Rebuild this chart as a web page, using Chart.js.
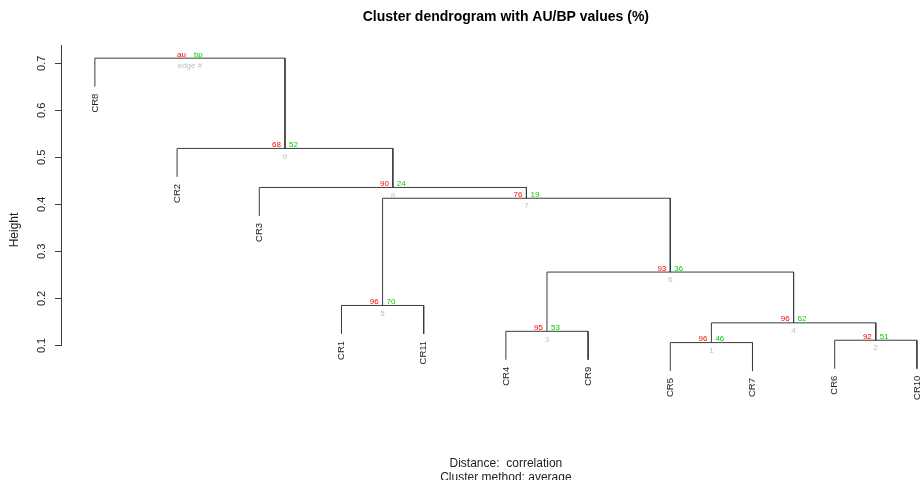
<!DOCTYPE html>
<html>
<head>
<meta charset="utf-8">
<title>Cluster dendrogram</title>
<script src="https://cdn.jsdelivr.net/npm/chart.js@4.4.1/dist/chart.umd.min.js"></script>
<style>
  body { margin: 0; background: #fff; }
  #wrap { width: 921px; height: 480px; }
</style>
</head>
<body>
<div id="wrap"><canvas id="dendro"></canvas></div>
<script>
/* ------------------------------------------- */
/* DATA -------------------------------------- */
/* ------------------------------------------- */
let leafLabels = ['CR8', 'CR2', 'CR3', 'CR1', 'CR11', 'CR4', 'CR9', 'CR5', 'CR7', 'CR6', 'CR10'];
// hclust style merges: negative = leaf (position in leafLabels), positive = earlier edge
let mergeLeft  = [-8, -10, -6, 1, -4, 3, 5, -3, -2, -1];
let mergeRight = [-9, -11, -7, 2, -5, 4, 6, 7, 8, 9];
let mergeHeights = [0.106, 0.111, 0.130, 0.148, 0.185, 0.256, 0.413, 0.436, 0.519, 0.711];
let auValues = [96, 92, 95, 96, 96, 93, 76, 90, 68];
let bpValues = [46, 51, 53, 62, 70, 36, 19, 24, 52];
let yTicks = [0.1, 0.2, 0.3, 0.4, 0.5, 0.6, 0.7];
let hang = 0.1;

let titleText = 'Cluster dendrogram with AU/BP values (%)';
let subText = ['Distance:  correlation', 'Cluster method: average'];

let lineCol = '#3c3c3c';
let auCol = '#ff0000';
let bpCol = '#00cd00';
let edgeCol = '#bebebe';
let fontFam = '"Liberation Sans", Arial, sans-serif';

/* ------------------------------------------- */
/* TREE GEOMETRY ----------------------------- */
/* ------------------------------------------- */
let hangHeight = hang * (Math.max(...mergeHeights) - Math.min(...mergeHeights));
let mergeX = [];
let leafEnd = [];

function nodeX(id) {
  return id < 0 ? -id : mergeX[id - 1];
}
function childTop(id, h) {
  if (id < 0) {
    leafEnd[-id - 1] = h - hangHeight;
    return h - hangHeight;
  }
  return mergeHeights[id - 1];
}

let datasets = [];
mergeHeights.forEach((h, i) => {
  let l = mergeLeft[i], r = mergeRight[i];
  mergeX.push((nodeX(l) + nodeX(r)) / 2);
  datasets.push({
    data: [
      {x: nodeX(l), y: childTop(l, h)},
      {x: nodeX(l), y: h},
      {x: nodeX(r), y: h},
      {x: nodeX(r), y: childTop(r, h)}
    ],
    borderColor: lineCol,
    borderWidth: 1,
    pointRadius: 0,
    tension: 0,
    fill: false
  });
});

/* ------------------------------------------- */
/* TEXT PLUGIN ------------------------------- */
/* ------------------------------------------- */
let annotate = {
  id: 'annotate',
  afterDraw(chart) {
    let ctx = chart.ctx;
    let xs = chart.scales.x, ys = chart.scales.y;
    ctx.save();

    // axis line, first tick to top
    let ax = Math.round(chart.chartArea.left) - 0.5;
    ctx.strokeStyle = lineCol;
    ctx.lineWidth = 1;
    ctx.beginPath();
    ctx.moveTo(ax, Math.round(ys.getPixelForValue(yTicks[0])) + 0.5);
    ctx.lineTo(ax, ys.top);
    ctx.stroke();

    // title + sub
    let cx = xs.getPixelForValue((1 + leafLabels.length) / 2);
    ctx.fillStyle = '#000';
    ctx.textAlign = 'center';
    ctx.textBaseline = 'alphabetic';
    ctx.font = 'bold 14px ' + fontFam;
    ctx.fillText(titleText, cx, 21);
    ctx.font = '12px ' + fontFam;
    ctx.fillStyle = '#222';
    ctx.fillText(subText[0], cx, 467);
    ctx.fillText(subText[1], cx, 481);

    // au / bp / edge numbers
    ctx.font = '8px ' + fontFam;
    mergeHeights.forEach((h, i) => {
      let px = xs.getPixelForValue(mergeX[i]);
      let py = ys.getPixelForValue(h);
      let root = i >= auValues.length;
      ctx.textBaseline = 'alphabetic';
      ctx.fillStyle = auCol;
      ctx.textAlign = 'right';
      ctx.fillText(root ? 'au' : String(auValues[i]), px - 4, py - 1.5);
      ctx.fillStyle = bpCol;
      ctx.textAlign = 'left';
      ctx.fillText(root ? 'bp' : String(bpValues[i]), px + 4, py - 1.5);
      ctx.fillStyle = edgeCol;
      ctx.textAlign = 'center';
      ctx.textBaseline = 'top';
      ctx.fillText(root ? 'edge #' : String(i + 1), px, py + 4);
    });

    // leaf labels
    ctx.font = '9.5px ' + fontFam;
    ctx.fillStyle = '#222';
    ctx.textAlign = 'right';
    ctx.textBaseline = 'middle';
    leafLabels.forEach((lab, k) => {
      let px = xs.getPixelForValue(k + 1);
      let py = ys.getPixelForValue(leafEnd[k]) + 7;
      ctx.save();
      ctx.translate(px, py);
      ctx.rotate(-Math.PI / 2);
      ctx.fillText(lab, 0, 0);
      ctx.restore();
    });

    ctx.restore();
  }
};

/* ------------------------------------------- */
/* CHART ------------------------------------- */
/* ------------------------------------------- */
Chart.defaults.font.family = fontFam;

let dendroCont = document.getElementById('dendro').getContext('2d');
let dendro = new Chart(dendroCont, {
  type: 'line',
  data: { datasets: datasets },
  options: {
    responsive: true,
    maintainAspectRatio: false,
    animation: false,
    layout: { padding: { top: 45, bottom: 65, left: 0, right: 0 } },
    plugins: {
      legend: { display: false },
      tooltip: { enabled: false },
      title: { display: false }
    },
    scales: {
      x: {
        type: 'linear',
        display: false,
        min: 0.6,
        max: 11.05
      },
      y: {
        type: 'linear',
        min: -0.048,
        max: 0.739,
        afterFit: (scale) => { scale.width = 62; },
        afterBuildTicks: (scale) => { scale.ticks = yTicks.map(v => ({value: v})); },
        border: { display: false },
        grid: {
          display: true,
          drawOnChartArea: false,
          drawTicks: true,
          tickLength: 7,
          color: lineCol
        },
        ticks: {
          minRotation: 90,
          maxRotation: 90,
          crossAlign: 'center',
          padding: 5,
          color: '#222',
          font: { size: 11 },
          callback: (v) => v.toFixed(1)
        },
        title: {
          display: true,
          text: 'Height',
          color: '#222',
          font: { size: 12 },
          padding: { top: 7, bottom: 0 }
        }
      }
    }
  },
  plugins: [annotate]
});
</script>
</body>
</html>
